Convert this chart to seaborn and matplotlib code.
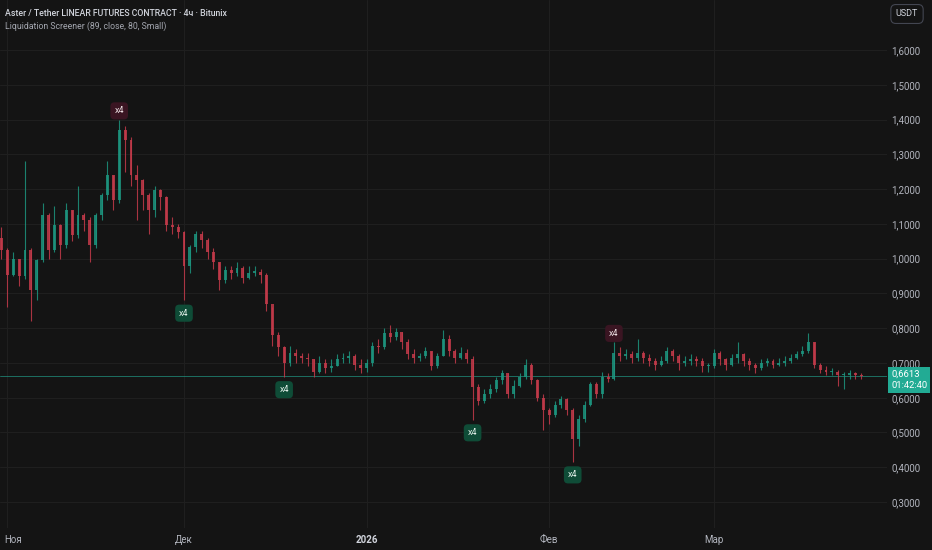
import numpy as np
import pandas as pd
import matplotlib
matplotlib.use("Agg")
import matplotlib.pyplot as plt
import matplotlib.dates as mdates
import matplotlib.transforms as mtransforms
import seaborn as sns

# ----------------------------------------------------------------------
# Daily candles (Oct 31 2025 .. Mar 26 2026)
# ----------------------------------------------------------------------
start_date = "2025-10-31"

close = [1.025, 0.953, 1.000, 0.950, 1.025, 0.910, 0.996, 1.125, 1.025, 1.097,
         1.040, 1.140, 1.068, 1.125, 1.110, 1.040, 1.125, 1.183, 1.240, 1.170,
         1.370, 1.340, 1.240, 1.226, 1.183, 1.140, 1.197, 1.177, 1.097, 1.090,
         1.076, 0.980, 1.033, 1.070, 1.054, 1.020, 0.990, 0.939, 0.967, 0.960,
         0.973, 0.944, 0.960, 0.962, 0.953, 0.870, 0.780, 0.745, 0.700, 0.730,
         0.720, 0.715, 0.710, 0.675, 0.700, 0.685, 0.690, 0.710, 0.715, 0.720,
         0.695, 0.685, 0.700, 0.750, 0.745, 0.785, 0.775, 0.790, 0.760, 0.725,
         0.715, 0.720, 0.735, 0.690, 0.720, 0.770, 0.735, 0.715, 0.730, 0.710,
         0.630, 0.590, 0.610, 0.625, 0.650, 0.670, 0.610, 0.635, 0.660, 0.695,
         0.650, 0.600, 0.565, 0.550, 0.580, 0.595, 0.565, 0.480, 0.540, 0.580,
         0.640, 0.610, 0.660, 0.655, 0.730, 0.720, 0.725, 0.715, 0.730, 0.715,
         0.705, 0.695, 0.705, 0.735, 0.720, 0.700, 0.705, 0.710, 0.705, 0.690,
         0.690, 0.730, 0.710, 0.695, 0.715, 0.725, 0.705, 0.695, 0.685, 0.700,
         0.705, 0.695, 0.700, 0.705, 0.715, 0.725, 0.735, 0.760, 0.695, 0.680,
         0.675, 0.675, 0.665, 0.665, 0.670, 0.665, 0.6613]

high = [1.090, 1.030, 1.020, 1.000, 1.280, 1.030, 1.000, 1.160, 1.130, 1.150,
        1.100, 1.160, 1.140, 1.210, 1.130, 1.120, 1.130, 1.190, 1.280, 1.240,
        1.400, 1.380, 1.350, 1.270, 1.230, 1.190, 1.210, 1.200, 1.180, 1.120,
        1.100, 1.080, 1.040, 1.080, 1.080, 1.060, 1.030, 0.990, 0.980, 0.980,
        0.990, 0.980, 0.980, 0.980, 0.970, 0.960, 0.860, 0.790, 0.750, 0.750,
        0.740, 0.730, 0.730, 0.710, 0.720, 0.710, 0.710, 0.725, 0.730, 0.735,
        0.725, 0.710, 0.710, 0.760, 0.770, 0.800, 0.810, 0.800, 0.790, 0.770,
        0.740, 0.730, 0.745, 0.735, 0.730, 0.795, 0.780, 0.740, 0.745, 0.740,
        0.720, 0.640, 0.625, 0.640, 0.660, 0.680, 0.670, 0.650, 0.670, 0.710,
        0.700, 0.655, 0.610, 0.570, 0.590, 0.605, 0.600, 0.570, 0.550, 0.590,
        0.645, 0.645, 0.675, 0.670, 0.760, 0.745, 0.740, 0.735, 0.770, 0.735,
        0.725, 0.715, 0.720, 0.745, 0.740, 0.725, 0.720, 0.725, 0.720, 0.715,
        0.700, 0.740, 0.735, 0.715, 0.725, 0.760, 0.730, 0.715, 0.700, 0.710,
        0.715, 0.710, 0.715, 0.720, 0.725, 0.735, 0.750, 0.786, 0.760, 0.700,
        0.690, 0.685, 0.680, 0.675, 0.680, 0.675, 0.670]

low = [1.000, 0.860, 0.950, 0.920, 0.940, 0.820, 0.880, 0.990, 1.000, 1.020,
       1.000, 1.030, 1.050, 1.060, 1.080, 0.990, 1.030, 1.110, 1.170, 1.140,
       1.160, 1.250, 1.210, 1.110, 1.140, 1.070, 1.120, 1.140, 1.080, 1.070,
       1.060, 0.880, 0.960, 1.020, 1.030, 1.000, 0.970, 0.910, 0.930, 0.940,
       0.950, 0.930, 0.940, 0.950, 0.930, 0.850, 0.750, 0.720, 0.660, 0.690,
       0.700, 0.700, 0.690, 0.660, 0.670, 0.670, 0.675, 0.690, 0.700, 0.700,
       0.680, 0.670, 0.675, 0.690, 0.730, 0.740, 0.760, 0.765, 0.740, 0.710,
       0.700, 0.705, 0.715, 0.680, 0.685, 0.720, 0.720, 0.700, 0.710, 0.700,
       0.536, 0.580, 0.585, 0.600, 0.615, 0.640, 0.600, 0.600, 0.630, 0.655,
       0.640, 0.590, 0.507, 0.525, 0.545, 0.570, 0.550, 0.415, 0.460, 0.530,
       0.575, 0.600, 0.600, 0.645, 0.650, 0.705, 0.710, 0.700, 0.705, 0.700,
       0.690, 0.680, 0.690, 0.700, 0.705, 0.680, 0.690, 0.695, 0.690, 0.675,
       0.675, 0.685, 0.695, 0.680, 0.690, 0.700, 0.690, 0.680, 0.670, 0.680,
       0.690, 0.685, 0.690, 0.690, 0.700, 0.710, 0.720, 0.730, 0.685, 0.670,
       0.665, 0.665, 0.635, 0.625, 0.655, 0.655, 0.655]

open_first = 1.060

# Liquidation screener labels: (date, side)
liq_dates = ["2025-11-20", "2025-12-01", "2025-12-18", "2026-01-19", "2026-02-05", "2026-02-12"]
liq_side = ["high", "low", "low", "low", "low", "high"]
liq_text = "x4"

last_price = 0.6613
countdown = "01:42:40"
price_ticks = [0.3, 0.4, 0.5, 0.6, 0.7, 0.8, 0.9, 1.0, 1.1, 1.2, 1.3, 1.4, 1.5, 1.6]
month_ticks = ["2025-11-01", "2025-12-01", "2026-01-01", "2026-02-01", "2026-03-01"]
month_labels = ["Ноя", "Дек", "2026", "Фев", "Мар"]

title = "Aster / Tether LINEAR FUTURES CONTRACT · 4ч · Bitunix"
subtitle = "Liquidation Screener (89, close, 80, Small)"

# ----------------------------------------------------------------------
# Frame
# ----------------------------------------------------------------------
df = pd.DataFrame({
    "date": pd.date_range(start_date, periods=len(close), freq="D"),
    "close": close, "high": high, "low": low,
})
df["open"] = [open_first] + close[:-1]
df["up"] = df["close"] >= df["open"]
df["x"] = mdates.date2num(df["date"])

BG = "#141414"
GRID = "#1f1f1f"
UP = "#1d957f"
DOWN = "#c43a4a"
TXT = "#b2b5be"

sns.set_theme(style="dark", rc={
    "figure.facecolor": BG, "axes.facecolor": BG,
    "axes.edgecolor": BG, "grid.color": GRID,
})
plt.rcParams["font.family"] = ["Roboto", "DejaVu Sans"]

fig = plt.figure(figsize=(9.32, 5.5), dpi=100)
ax = fig.add_axes([0, 22 / 550, 887 / 932, 528 / 550])

# wicks
colors = np.where(df["up"], UP, DOWN)
ax.vlines(df["x"], df["low"], df["high"], colors=colors, linewidth=0.8, alpha=0.85, zorder=3)
# bodies
body_bottom = df[["open", "close"]].min(axis=1)
body_height = (df["open"] - df["close"]).abs().clip(lower=0.003)
ax.bar(df["x"], body_height, bottom=body_bottom, width=0.5, color=colors,
       alpha=0.85, linewidth=0, zorder=4)

# last price line
ax.axhline(last_price, color="#22ab94", linewidth=0.6, alpha=0.7, zorder=2)

# liquidation labels
for d, side in zip(liq_dates, liq_side):
    xd = mdates.date2num(pd.Timestamp(d))
    row = df.loc[df["date"] == pd.Timestamp(d)].iloc[0]
    if side == "low":
        ax.annotate(liq_text, (xd, row["low"]), xytext=(0, -6), textcoords="offset points",
                    ha="center", va="top", fontsize=6.5, color="#dfeee7",
                    bbox=dict(boxstyle="round,pad=0.45", fc="#0f4c37", ec="none"), zorder=6)
    else:
        ax.annotate(liq_text, (xd, row["high"]), xytext=(0, 3), textcoords="offset points",
                    ha="center", va="bottom", fontsize=6.5, color="#eadde0",
                    bbox=dict(boxstyle="round,pad=0.45", fc="#3a1522", ec="none"), zorder=6)

# axes limits (pixel calibrated)
x_nov1 = mdates.date2num(pd.Timestamp("2025-11-01"))
ax.set_xlim(x_nov1 - 1.24, x_nov1 + 149.36)
ax.set_ylim(0.2253, 1.7438)

ax.set_yticks(price_ticks)
ax.set_yticklabels([f"{p:.4f}".replace(".", ",") for p in price_ticks])
ax.yaxis.tick_right()
ax.tick_params(axis="y", colors=TXT, labelsize=7, length=0, pad=3)

ax.set_xticks([mdates.date2num(pd.Timestamp(m)) for m in month_ticks])
ax.set_xticklabels(month_labels)
ax.tick_params(axis="x", colors=TXT, labelsize=7, length=0, pad=5)
for lab in ax.get_xticklabels():
    if lab.get_text() == "2026":
        lab.set_fontweight("bold")
        lab.set_color("#d1d4dc")
    if lab.get_text() == "Ноя":
        # first label sits a little to the right of its month start
        lab.set_transform(lab.get_transform() +
                          mtransforms.ScaledTranslation(6 / 100, 0, fig.dpi_scale_trans))

ax.grid(True, color=GRID, linewidth=0.8)
for s in ax.spines.values():
    s.set_visible(False)

# last price tag
ax.annotate(f"{last_price:.4f}".replace(".", ",") + "\n" + countdown,
            (1.0, last_price), xycoords=("axes fraction", "data"),
            xytext=(3, 4.5), textcoords="offset points", ha="left", va="top",
            fontsize=6.8, color="white", linespacing=1.3, annotation_clip=False,
            bbox=dict(boxstyle="square,pad=0.3", fc="#22ab94", ec="none"), zorder=10)

# header
fig.text(5 / 932, 1 - 13 / 550, title, fontsize=6.3, fontweight="medium",
         color="#d1d4dc", va="center")
fig.text(5 / 932, 1 - 26 / 550, subtitle, fontsize=6.3, color="#a3a6af", va="center")
fig.text(907 / 932, 1 - 14 / 550, "USDT", fontsize=6.5, color="#d1d4dc", ha="center", va="center",
         bbox=dict(boxstyle="round,pad=0.55", fc=BG, ec="#434651", lw=0.8))

fig.savefig("out.png", dpi=100, facecolor=BG)
